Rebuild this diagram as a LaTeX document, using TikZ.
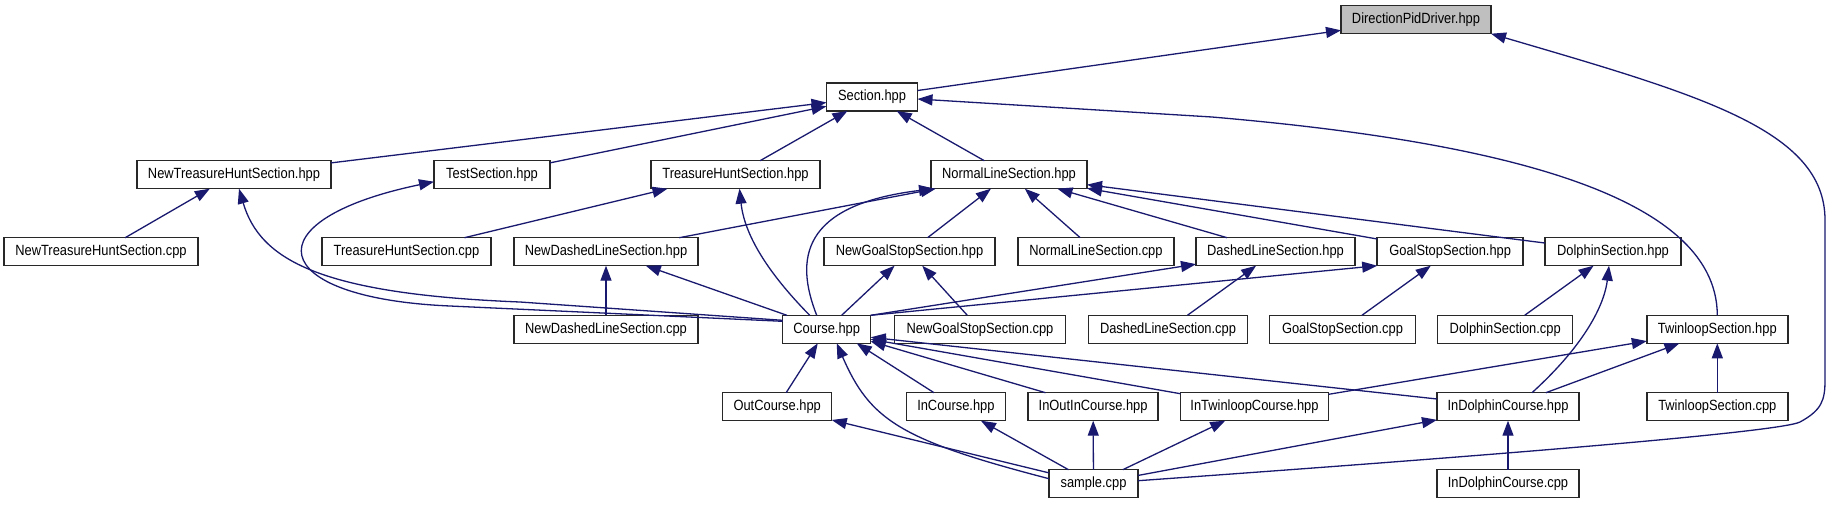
\documentclass[tikz,border=0pt]{standalone}
\usepackage{fontspec}
\setmainfont{Liberation Sans}[FakeStretch=0.87]
\usetikzlibrary{arrows.meta,calc}
\definecolor{navy}{RGB}{25,25,112}
\definecolor{dpdgray}{RGB}{191,191,191}
\definecolor{boxline}{RGB}{40,40,40}
\begin{document}
\begin{tikzpicture}[x=0.5pt,y=-0.5pt,
  box/.style={draw=boxline, line width=0.75pt, fill=white, minimum height=14pt,
    inner sep=0pt, outer sep=0pt, font=\fontsize{7.4pt}{9pt}\selectfont},
  dep/.style={draw=navy, line width=0.65pt, -{Triangle[length=7.5pt,width=5.5pt]}}]
\fill[white] (0,0) rectangle (1832,504);
\useasboundingbox (0,0) rectangle (1832,504);
% row 0
\node[box, fill=dpdgray, minimum width=75pt] (dpd) at (1416,19.7) {DirectionPidDriver.hpp};
% row 1
\node[box, minimum width=45.5pt] (sec) at (872,97) {Section.hpp};
% row 2
\node[box, minimum width=97pt] (nths) at (234,174.7) {NewTreasureHuntSection.hpp};
\node[box, minimum width=58pt] (ts) at (492,174.7) {TestSection.hpp};
\node[box, minimum width=84.5pt] (ths) at (735.5,174.7) {TreasureHuntSection.hpp};
\node[box, minimum width=78pt] (nls) at (1009,174.7) {NormalLineSection.hpp};
% row 3
\node[box, minimum width=97pt] (nthc) at (101,251.7) {NewTreasureHuntSection.cpp};
\node[box, minimum width=84.5pt] (thc) at (406.5,251.7) {TreasureHuntSection.cpp};
\node[box, minimum width=92pt] (ndls) at (606,251.7) {NewDashedLineSection.hpp};
\node[box, minimum width=85.5pt] (ngs) at (909.5,251.7) {NewGoalStopSection.hpp};
\node[box, minimum width=78pt] (nlc) at (1096,251.7) {NormalLineSection.cpp};
\node[box, minimum width=79.5pt] (dls) at (1275.5,251.7) {DashedLineSection.hpp};
\node[box, minimum width=73pt] (gss) at (1450.2,251.7) {GoalStopSection.hpp};
\node[box, minimum width=68pt] (ds) at (1613,251.7) {DolphinSection.hpp};
% row 4
\node[box, minimum width=92pt] (ndlc) at (606,329.3) {NewDashedLineSection.cpp};
\node[box, minimum width=44pt] (course) at (826.7,329.3) {Course.hpp};
\node[box, minimum width=85.5pt] (ngsc) at (980,329.3) {NewGoalStopSection.cpp};
\node[box, minimum width=79.5pt] (dlc) at (1168,329.3) {DashedLineSection.cpp};
\node[box, minimum width=73pt] (gsc) at (1342.5,329.3) {GoalStopSection.cpp};
\node[box, minimum width=67.5pt] (dsc) at (1505.2,329.3) {DolphinSection.cpp};
\node[box, minimum width=70.5pt] (tls) at (1717.3,329.3) {TwinloopSection.hpp};
% row 5
\node[box, minimum width=54.5pt] (oc) at (777.2,406.7) {OutCourse.hpp};
\node[box, minimum width=49.5pt] (ic) at (955.9,406.7) {InCourse.hpp};
\node[box, minimum width=65pt] (ioic) at (1093.1,406.7) {InOutInCourse.hpp};
\node[box, minimum width=74pt] (itc) at (1254.5,406.7) {InTwinloopCourse.hpp};
\node[box, minimum width=71pt] (idc) at (1508,406.7) {InDolphinCourse.hpp};
\node[box, minimum width=70.5pt] (tlc) at (1717.3,406.7) {TwinloopSection.cpp};
% row 6
\node[box, minimum width=44.5pt] (sample) at (1093.5,483.7) {sample.cpp};
\node[box, minimum width=71pt] (idcc) at (1508,483.7) {InDolphinCourse.cpp};

% edges to DirectionPidDriver.hpp
\draw[dep] (sec) -- (dpd);
\draw[dep] ($(sample.east)+(0,-3)$) .. controls (1500,455) and (1780,432) .. (1800,422)
  .. controls (1822,410) and (1825,400) .. (1825,380) -- (1825,220)
  .. controls (1825,130) and (1700,95) .. (dpd.south east);
% edges to Section.hpp
\draw[dep] (nths) -- (sec);
\draw[dep] (ts) -- (sec);
\draw[dep] (ths) -- (sec);
\draw[dep] (nls) -- (sec);
\draw[dep] (tls.north) .. controls (1717,190) and (1480,140) .. (1212,117) -- ($(sec.east)+(0,2)$);
% edges to NewTreasureHuntSection.hpp / TestSection.hpp / TreasureHuntSection.hpp
\draw[dep] (nthc) -- (nths);
\draw[dep] ($(course.west)+(0,-9)$) -- (520,302) .. controls (320,294) and (260,260) .. ($(nths.south)+(5,0)$);
\draw[dep] ($(course.west)+(0,-8)$) -- (450,306) .. controls (265,298) and (250,220) .. ($(ts.west)+(0,7)$);
\draw[dep] (thc) -- ($(ths.south)+(-68,0)$);
\draw[dep] ($(course.north)+(-17,0)$) .. controls (775,280) and (745,240) .. ($(ths.south)+(4,0)$);
% edges to NormalLineSection.hpp
\draw[dep] (ndls) -- (nls);
\draw[dep] ($(course.north)+(-10,0)$) .. controls (795,260) and (800,205) .. ($(nls.south west)+(3,0)$);
\draw[dep] (ngs) -- (nls);
\draw[dep] (nlc) -- (nls);
\draw[dep] (dls) -- (nls);
\draw[dep] (gss) -- (nls);
\draw[dep] (ds) -- (nls);
% row 3 targets
\draw[dep] (ndlc) -- (ndls);
\draw[dep] (course) -- (ndls);
\draw[dep] (course) -- (ngs);
\draw[dep] (ngsc) -- (ngs);
\draw[dep] (course.north east) -- (dls);
\draw[dep] (course.north east) -- (gss.south west);
\draw[dep] (dlc) -- (dls);
\draw[dep] (gsc) -- (gss);
\draw[dep] (dsc) -- (ds);
\draw[dep] ($(idc.north)+(24,0)$) .. controls (1590,340) and (1605,300) .. ($(ds.south)+(-4,0)$);
% TwinloopSection.hpp
\draw[dep] (tlc) -- (tls);
\draw[dep] (itc) -- (tls);
\draw[dep] (idc) -- (tls);
% Course.hpp
\draw[dep] (oc) -- (course);
\draw[dep] ($(sample.west)+(0,-5)$) .. controls (900,440) and (870,420) .. ($(course.south)+(10,0)$);
\draw[dep] (ic) -- ($(course.south east)+(-14,0)$);
\draw[dep] (ioic) -- ($(course.east)+(0,12)$);
\draw[dep] (itc) -- ($(course.east)+(0,10)$);
\draw[dep] (idc) -- ($(course.east)+(0,8)$);
% sample.cpp
\draw[dep] (sample) -- (oc);
\draw[dep] (sample) -- (ic);
\draw[dep] (sample) -- (ioic);
\draw[dep] (sample) -- (itc);
\draw[dep] (sample) -- (idc);
\draw[dep] (idcc) -- (idc);
\end{tikzpicture}
\end{document}
